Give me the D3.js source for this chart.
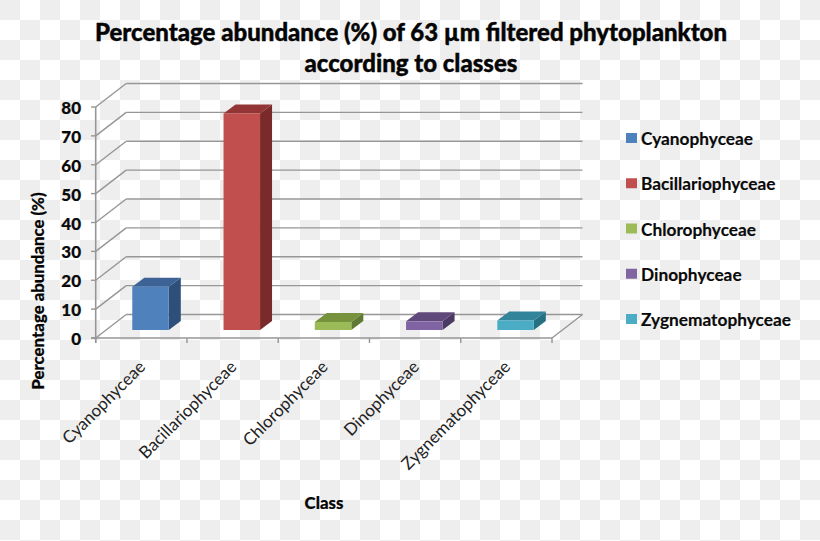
<!DOCTYPE html>
<html><head><meta charset="utf-8">
<style>html,body{margin:0;padding:0;background:#fff}svg{display:block}text{font-family:Lato,"Open Sans",sans-serif}</style>
<script src="https://cdn.jsdelivr.net/npm/d3@7"></script></head>
<body><svg id="c" width="820" height="541"></svg>
<script>
const categories=["Cyanophyceae","Bacillariophyceae","Chlorophyceae","Dinophyceae","Zygnematophyceae"];
const values=[15,75,2.8,3,3.3];
const frontColors=["#4f81bd","#c0504d","#9bbb59","#8064a2","#4bacc6"];
const topColors=["#3c6496","#943634","#76923c","#5f497a","#31849b"];
const sideColors=["#2f4f7a","#7a2c2a","#5f7a30","#4b3a63","#276f83"];
const ticks=d3.range(0,81,10);
const titleLines=["Percentage abundance (%) of 63 µm filtered phytoplankton","according to classes"];

const W=820,H=541,svg=d3.select("#c");
const defs=svg.append("defs");
defs.append("filter").attr("id","soft").append("feGaussianBlur").attr("stdDeviation",0.35);
const pat=defs.append("pattern").attr("id","chk").attr("width",40).attr("height",40).attr("patternUnits","userSpaceOnUse");
pat.append("rect").attr("width",40).attr("height",40).attr("fill","#fff");
pat.append("rect").attr("width",20).attr("height",20).attr("fill","#eeeeee");
pat.append("rect").attr("x",20).attr("y",20).attr("width",20).attr("height",20).attr("fill","#eeeeee");
svg.append("rect").attr("width",W).attr("height",H).attr("fill","url(#chk)");

const y=d3.scaleLinear().domain([0,80]).range([338,107]);
const x=d3.scaleBand().domain(categories).range([95.7,552]).paddingInner(0.6).paddingOuter(0.3);
const tickX=d3.scaleLinear().domain([0,5]).range([95.7,552]);
const floorDx=30.5,floorDy=-23.5,barDx=12,barDy=-9,barLift=8,barShift=9.2;
const grid="#969696";
const root=svg.append("g").attr("filter","url(#soft)");

ticks.forEach(t=>{
  root.append("line").attr("x1",95.7+floorDx).attr("x2",552+floorDx).attr("y1",y(t)+floorDy).attr("y2",y(t)+floorDy).attr("stroke",grid).attr("stroke-width",1.4);
  root.append("line").attr("x1",95.7).attr("x2",95.7+floorDx).attr("y1",y(t)).attr("y2",y(t)+floorDy).attr("stroke",grid).attr("stroke-width",1.4);
});
root.append("line").attr("x1",552).attr("x2",552+floorDx).attr("y1",y(0)).attr("y2",y(0)+floorDy).attr("stroke",grid).attr("stroke-width",1.4);
root.append("line").attr("x1",95.7).attr("x2",95.7).attr("y1",y(80)).attr("y2",y(0)+5).attr("stroke",grid).attr("stroke-width",1.6);
root.append("line").attr("x1",91).attr("x2",552).attr("y1",y(0)).attr("y2",y(0)).attr("stroke",grid).attr("stroke-width",1.6);
ticks.forEach(t=>root.append("line").attr("x1",91).attr("x2",95.7).attr("y1",y(t)).attr("y2",y(t)).attr("stroke",grid).attr("stroke-width",1.4));
d3.range(0,6).forEach(i=>root.append("line").attr("x1",tickX(i)).attr("x2",tickX(i)).attr("y1",y(0)).attr("y2",y(0)+5).attr("stroke",grid).attr("stroke-width",1.4));

const line=d3.line();
categories.forEach((c,i)=>{
  const x0=x(c)+barShift,x1=x0+x.bandwidth(),b=y(0)-barLift,t=y(values[i])-barLift;
  root.append("path").attr("d",line([[x1,t],[x1+barDx,t+barDy],[x1+barDx,b+barDy],[x1,b]])+"Z").attr("fill",sideColors[i]);
  root.append("path").attr("d",line([[x0,t],[x0+barDx,t+barDy],[x1+barDx,t+barDy],[x1,t]])+"Z").attr("fill",topColors[i]);
  root.append("rect").attr("x",x0).attr("y",t).attr("width",x.bandwidth()).attr("height",b-t).attr("fill",frontColors[i]);
});

const heavy=(s,w)=>s.attr("stroke","#050505").attr("stroke-width",w).attr("paint-order","stroke");
ticks.forEach(t=>heavy(svg.append("text").attr("x",81).attr("y",y(t)+7).attr("text-anchor","end").attr("font-size",17).attr("font-weight",900).attr("fill","#0a0a0a").text(t),0.2));
categories.forEach((c,i)=>{
  const cx=(tickX(i)+tickX(i+1))/2;
  svg.append("text").attr("transform",`translate(${cx+5},${y(0)+30}) rotate(-45)`).attr("text-anchor","end").attr("font-size",17).attr("fill","#222").text(c);
});
titleLines.forEach((s,i)=>heavy(svg.append("text").attr("x",411).attr("y",41+i*31).attr("text-anchor","middle").attr("font-size",24).attr("font-weight",900).attr("fill","#050505").text(s),0.4));
heavy(svg.append("text").attr("transform","translate(44,291) rotate(-90)").attr("text-anchor","middle").attr("font-size",16.8).attr("font-weight",900).attr("fill","#050505").text("Percentage abundance (%)"),0.2);
heavy(svg.append("text").attr("x",324).attr("y",509).attr("text-anchor","middle").attr("font-size",16.8).attr("font-weight",900).attr("fill","#050505").text("Class"),0.2);
const legendY=d3.scalePoint().domain(categories).range([138,319]);
categories.forEach((c,i)=>{
  svg.append("rect").attr("x",626).attr("y",legendY(c)-5).attr("width",11).attr("height",10).attr("fill",frontColors[i]);
  heavy(svg.append("text").attr("x",641).attr("y",legendY(c)+7).attr("font-size",17.3).attr("font-weight",700).attr("fill","#0a0a0a").text(c),0.15);
});
</script></body></html>
